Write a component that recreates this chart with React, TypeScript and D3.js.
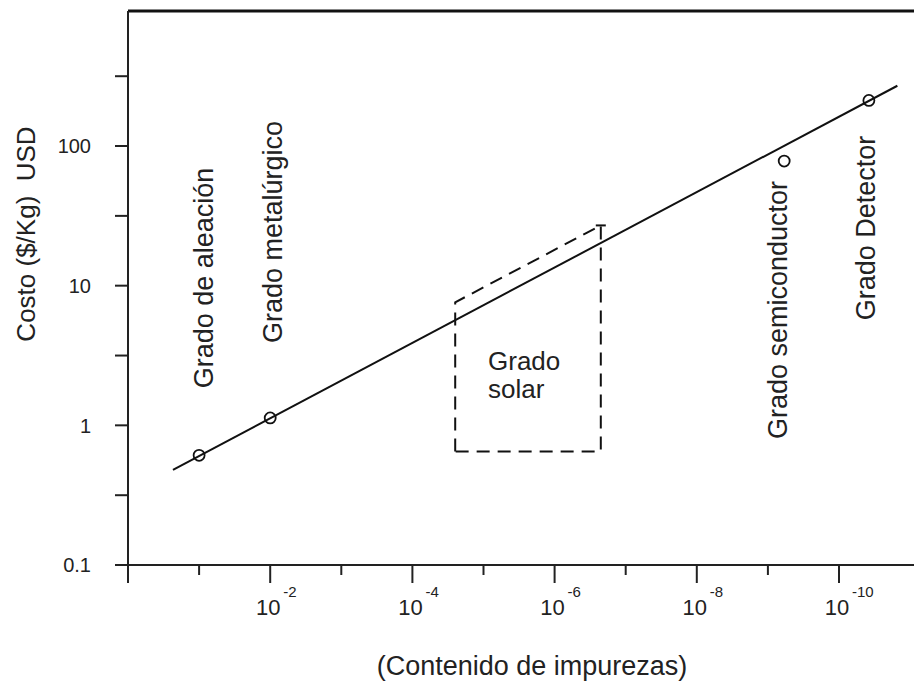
import React from 'react';
import * as d3 from 'd3';

// cost per kg (USD), log axis
const costTicks = [0.1, 1, 10, 100];
const costTickLabels = ['0.1', '1', '10', '100'];
const costMinor = [0.316, 3.16, 31.6, 316];

// impurity content, log axis running from 1 down to 1e-10
const impTicks = [1e-1, 1e-2, 1e-3, 1e-4, 1e-5, 1e-6, 1e-7, 1e-8, 1e-9, 1e-10];
const impLabeled = [1e-2, 1e-4, 1e-6, 1e-8, 1e-10];
const impExponents = ['-2', '-4', '-6', '-8', '-10'];

// trend line and the grade points
const fitLine = [
  { imp: 0.233, cost: 0.48 },
  { imp: 1.51e-11, cost: 270 },
];
const gradePoints = [
  { imp: 1e-1, cost: 0.61 },
  { imp: 1e-2, cost: 1.13 },
  { imp: 5.9e-10, cost: 78 },
  { imp: 3.8e-11, cost: 212 },
];

// dashed "solar grade" region
const solarBox = [
  { imp: 2.5e-5, cost: 0.65 },
  { imp: 2.5e-5, cost: 7.6 },
  { imp: 2.24e-7, cost: 27 },
  { imp: 2.24e-7, cost: 0.65 },
];

const gradeNames = ['Grado de aleación', 'Grado metalúrgico', 'Grado semiconductor', 'Grado Detector'];
const solarText = ['Grado', 'solar'];

const FONT = 'Liberation Sans, Arial, sans-serif';

export default function App() {
  const W = 914, H = 682;
  const x0 = 128, yAxis = 565, top = 11;

  const x = d3.scaleLog().domain([1, 1e-10]).range([x0, 839]);
  const y = d3.scaleLog().domain([0.1, 100]).range([yAxis, 146]);

  const line = d3.line<{ imp: number; cost: number }>().x(d => x(d.imp)).y(d => y(d.cost));

  // rotated label centres (px)
  const namePos = [
    [203, 278], [272, 232], [777, 310], [865, 228],
  ];
  const capX = x(solarBox[2].imp), capY = y(solarBox[2].cost);

  return (
    <svg width={W} height={H} style={{ position: 'absolute', left: 0, top: 0, background: '#fff' }}
      fontFamily={FONT}>
      {/* top frame */}
      <line x1={x0} x2={W} y1={top} y2={top} stroke="#111" strokeWidth={3} />
      {/* axes */}
      <line x1={115} x2={W} y1={yAxis} y2={yAxis} stroke="#222" strokeWidth={2} />
      <line x1={x0} x2={x0} y1={top} y2={583} stroke="#222" strokeWidth={2} />

      {/* y ticks */}
      {costTicks.concat(costMinor).map((v, i) => (
        <line key={'yt' + i} x1={115} x2={x0} y1={y(v)} y2={y(v)} stroke="#222" strokeWidth={2} />
      ))}
      {costTicks.map((v, i) => (
        <text key={'yl' + i} x={91} y={y(v)} dy="0.36em" textAnchor="end" fontSize={20} fill="#222">
          {costTickLabels[i]}
        </text>
      ))}

      {/* x ticks */}
      {impTicks.map((v, i) => {
        const major = impLabeled.includes(v);
        return (
          <line key={'xt' + i} x1={x(v)} x2={x(v)} y1={yAxis} y2={yAxis + (major ? 18 : 10)}
            stroke="#222" strokeWidth={2} />
        );
      })}
      {impLabeled.map((v, i) => (
        <g key={'xl' + i}>
          <text x={x(v) - 2} y={615} textAnchor="middle" fontSize={22} fill="#222">10</text>
          <text x={x(v) + 13} y={597} fontSize={15} fill="#222">{impExponents[i]}</text>
        </g>
      ))}

      {/* axis titles */}
      <text transform="translate(26,234) rotate(-90)" dy="0.36em" textAnchor="middle" fontSize={26} fill="#222"
        style={{ whiteSpace: 'pre' }}>
        {'Costo ($/Kg)  USD'}
      </text>
      <text x={532} y={675} textAnchor="middle" fontSize={27} fill="#222">(Contenido de impurezas)</text>

      {/* trend line */}
      <path d={line(fitLine) ?? ''} fill="none" stroke="#111" strokeWidth={2} />

      {/* solar region */}
      <path d={(line(solarBox) ?? '') + 'Z'} fill="none" stroke="#111" strokeWidth={2} strokeDasharray="13,8" />
      <line x1={capX - 5} x2={capX + 5} y1={capY} y2={capY} stroke="#111" strokeWidth={2} />

      {/* grade points */}
      {gradePoints.map((d, i) => (
        <circle key={'pt' + i} cx={x(d.imp)} cy={y(d.cost)} r={5.5} fill="none" stroke="#111" strokeWidth={1.8} />
      ))}

      {/* grade names */}
      {gradeNames.map((t, i) => (
        <text key={'gn' + i} transform={`translate(${namePos[i][0]},${namePos[i][1]}) rotate(-90)`}
          dy="0.36em" textAnchor="middle" fontSize={27} fill="#222">{t}</text>
      ))}
      {solarText.map((t, i) => (
        <text key={'st' + i} x={488} y={370 + i * 28} fontSize={26} fill="#222">{t}</text>
      ))}
    </svg>
  );
}
